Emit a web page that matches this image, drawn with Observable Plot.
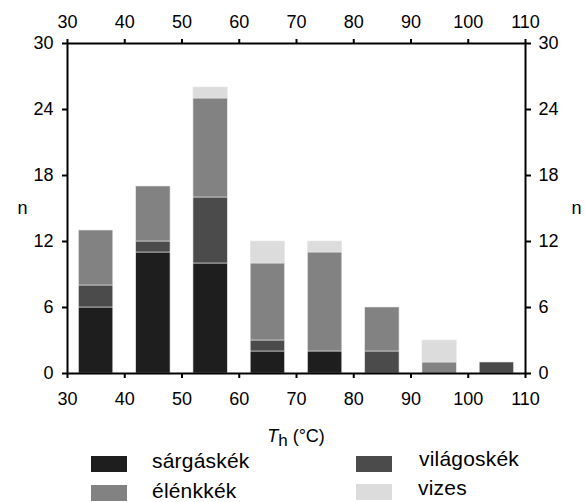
<!DOCTYPE html>
<html><head><meta charset="utf-8">
<script src="https://cdn.jsdelivr.net/npm/d3@7"></script>
<script src="https://cdn.jsdelivr.net/npm/@observablehq/plot@0.6"></script>
<style>
body{margin:0;background:#fff;font-family:"Liberation Sans",Arial,sans-serif;}
#wrap{position:relative;width:585px;height:502px;overflow:hidden;}
#wrap svg text{font-size:18px !important;font-family:"Liberation Sans",Arial,sans-serif;fill:#000;}
.xl{position:absolute;left:0;width:592px;top:426px;text-align:center;font-size:18px;line-height:20px;}
.lg{position:absolute;font-size:21px;line-height:22px;letter-spacing:0.2px;}
.sw{position:absolute;width:36px;height:16px;}
</style></head>
<body><div id="wrap"></div>
<script>
const binStart = [30, 40, 50, 60, 70, 80, 90, 100];
const series = ["sárgáskék", "világoskék", "élénkkék", "vizes"];
const sargaskek  = [6, 11, 10, 2, 2, 0, 0, 0];
const vilagoskek = [2, 1, 6, 1, 0, 2, 0, 1];
const elenkkek   = [5, 5, 9, 7, 9, 4, 1, 0];
const vizes      = [0, 0, 1, 2, 1, 0, 2, 0];
const colors = ["#1e1e1e", "#4b4b4b", "#828282", "#dcdcdc"];
const xTicks = [30, 40, 50, 60, 70, 80, 90, 100, 110];
const yTicks = [0, 6, 12, 18, 24, 30];

const vals = [sargaskek, vilagoskek, elenkkek, vizes];
const table = [];
binStart.forEach((b, i) => {
  let acc = 0;
  series.forEach((s, k) => {
    const v = vals[k][i];
    if (v > 0) table.push({x1: b + 2, x2: b + 8, y1: acc, y2: acc + v, s});
    acc += v;
  });
});

const chart = Plot.plot({
  width: 585, height: 412,
  marginTop: 43, marginBottom: 39, marginLeft: 67, marginRight: 60,
  style: {fontFamily: '"Liberation Sans", Arial, sans-serif', fontSize: "18px", color: "#000"},
  x: {domain: [30, 110]},
  y: {domain: [0, 30]},
  color: {domain: series, range: colors},
  marks: [
    Plot.rect(table, {x1: "x1", x2: "x2", y1: "y1", y2: "y2", fill: "s", stroke: "#e8e8e8", strokeWidth: 0.6}),
    Plot.frame({stroke: "#000", strokeWidth: 2}),
    Plot.axisX({anchor: "bottom", ticks: xTicks, tickSize: 5, tickPadding: 14, strokeWidth: 2, label: null}),
    Plot.axisX({anchor: "top", ticks: xTicks, tickSize: 5, tickPadding: 11, strokeWidth: 2, label: null}),
    Plot.axisY({anchor: "left", ticks: yTicks, tickSize: 5, tickPadding: 9, strokeWidth: 2, label: null}),
    Plot.axisY({anchor: "right", ticks: yTicks, tickSize: 5, tickPadding: 8, strokeWidth: 2, label: null}),
    Plot.text(["n"], {frameAnchor: "left", dx: -50, dy: 0}),
    Plot.text(["n"], {frameAnchor: "right", dx: 56, dy: 0})
  ]
});
const wrap = document.getElementById("wrap");
wrap.appendChild(chart);

const xl = document.createElement("div");
xl.className = "xl";
xl.innerHTML = '<i>T</i><span style="font-size:17px;position:relative;top:4px">h</span> (°C)';
wrap.appendChild(xl);

const sw = [[91, 456], [356, 456], [91, 485], [356, 484]];
const tx = [[152, 450], [419, 448], [152, 480], [418, 477]];
series.forEach((s, k) => {
  const a = document.createElement("div");
  a.className = "sw"; a.style.left = sw[k][0] + "px"; a.style.top = sw[k][1] + "px"; a.style.background = colors[k];
  wrap.appendChild(a);
  const t = document.createElement("div");
  t.className = "lg"; t.style.left = tx[k][0] + "px"; t.style.top = tx[k][1] + "px"; t.textContent = s;
  wrap.appendChild(t);
});
</script></body></html>
